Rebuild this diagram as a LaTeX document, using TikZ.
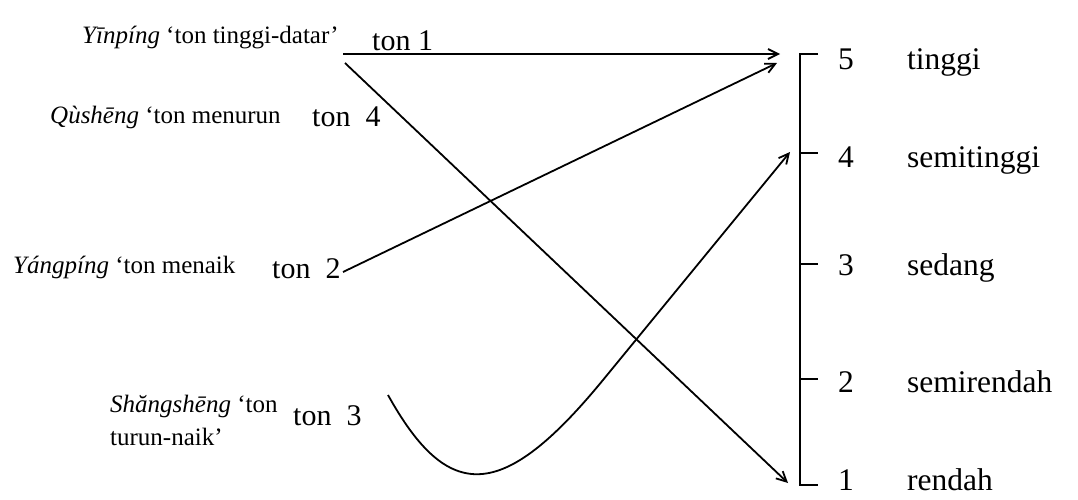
\documentclass[tikz,border=0pt]{standalone}
\usepackage{fontspec}
\setmainfont{Liberation Serif}
\usetikzlibrary{arrows.meta}
\begin{document}
\begin{tikzpicture}[x=1pt,y=-1pt,
  lab/.style={anchor=base west, inner sep=0pt, font=\fontsize{25}{28}\selectfont},
  tonlab/.style={anchor=base west, inner sep=0pt, font=\fontsize{30}{34}\selectfont},
  lvl/.style={anchor=base west, inner sep=0pt, font=\fontsize{31.5}{36}\selectfont},
  conn/.style={line width=1.8pt, -{Straight Barb[length=10pt,width=10pt,line width=1.8pt]}},
  axisline/.style={line width=2.8pt}]
\useasboundingbox (0,0) rectangle (1078,499);
% left labels
\node[lab] (yin) at (82,43) {\textit{Yīnpíng} ‘ton tinggi-datar’};
\node[tonlab] (t1) at (372,50) {ton 1};
\node[lab] (qu) at (50,123) {\textit{Qùshēng} ‘ton menurun};
\node[tonlab] (t4) at (312,126) {ton\ \ 4};
\node[lab] (yang) at (13,273) {\textit{Yángpíng} ‘ton menaik};
\node[tonlab] (t2) at (272,278) {ton\ \ 2};
\node[lab] (sh1) at (110,412) {\textit{Shăngshēng} ‘ton};
\node[lab] (sh2) at (110,445) {turun-naik’};
\node[tonlab] (t3) at (293,425) {ton\ \ 3};
% axis
\coordinate (v5) at (800,54);
\coordinate (v4) at (800,153);
\coordinate (v3) at (800,264);
\coordinate (v2) at (800,379);
\coordinate (v1) at (800,485);
\draw[axisline] ([xshift=18pt]v5) -- (v5) -- (v1) -- ([xshift=18pt]v1);
\foreach \k in {2,3,4} \draw[axisline] (v\k) -- ([xshift=18pt]v\k);
% level labels
\node[lvl] (n5) at (838,69) {5};
\node[lvl] (w5) at (907,69) {tinggi};
\node[lvl] (n4) at (838,167) {4};
\node[lvl] (w4) at (907,167) {semitinggi};
\node[lvl] (n3) at (838,275) {3};
\node[lvl] (w3) at (907,275) {sedang};
\node[lvl] (n2) at (838,392) {2};
\node[lvl] (w2) at (907,392) {semirendah};
\node[lvl] (n1) at (838,490) {1};
\node[lvl] (w1) at (907,490) {rendah};
% connector ends
\coordinate (s1) at (343,54);
\coordinate (e1) at (780,54);
\coordinate (s4) at (345,63);
\coordinate (e4) at (788,483);
\coordinate (s2) at (343,272);
\coordinate (e2) at (777,63);
\coordinate (s3) at (388,395);
\coordinate (m3) at (603,380);
\coordinate (e3) at (790,152);
\draw[conn] (s1) -- (e1);
\draw[conn] (s4) -- (e4);
\draw[conn] (s2) -- (e2);
\draw[conn] (s3) .. controls (448,503) and (502,503) .. (m3) -- (e3);
\end{tikzpicture}
\end{document}
